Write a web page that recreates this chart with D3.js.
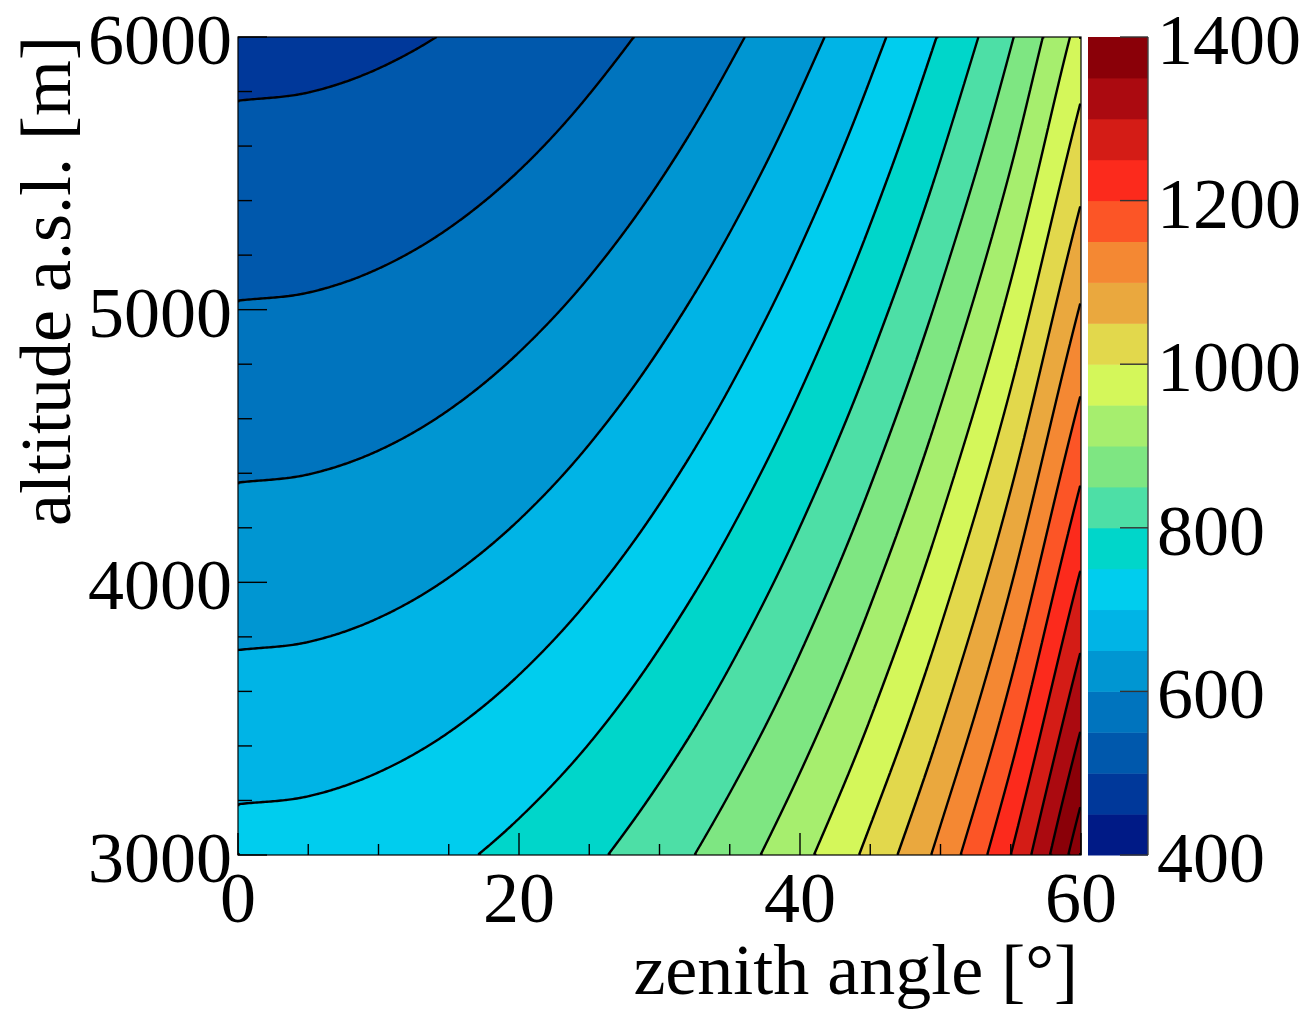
<!DOCTYPE html>
<html>
<head>
<meta charset="utf-8">
<script src="https://cdn.jsdelivr.net/npm/d3@7"></script>
<style>
  html, body { margin: 0; padding: 0; background: #fff; }
  svg { display: block; }
  text { font-family: "Liberation Serif", "DejaVu Serif", serif; fill: #000; }
</style>
</head>
<body>
<script>
// ---- data ----
const zenith = [0, 5, 10, 15, 20, 25, 30, 35, 40, 45, 50, 55, 60];      // degrees
const altitude = [3000, 3500, 4000, 4500, 5000, 5500, 6000];              // m a.s.l.
const values = [
  [717.0, 719.7, 728.1, 742.3, 763.0, 791.1, 827.9, 875.3, 936.0, 1014.0, 1115.4, 1250.1, 1434.0],
  [671.7, 674.3, 682.1, 695.4, 714.8, 741.1, 775.6, 820.0, 876.8, 949.9, 1045.0, 1171.1, 1343.4],
  [629.3, 631.7, 639.0, 651.5, 669.7, 694.3, 726.7, 768.2, 821.5, 890.0, 979.0, 1097.2, 1258.6],
  [589.6, 591.9, 598.7, 610.4, 627.4, 650.5, 680.8, 719.8, 769.7, 833.8, 917.3, 1027.9, 1179.2],
  [552.4, 554.5, 560.9, 571.9, 587.9, 609.5, 637.9, 674.4, 721.1, 781.2, 859.4, 963.1, 1104.8],
  [517.5, 519.5, 525.5, 535.7, 550.7, 571.0, 597.6, 631.8, 675.6, 731.9, 805.1, 902.2, 1035.0],
  [484.9, 486.8, 492.4, 502.0, 516.0, 535.0, 559.9, 592.0, 633.0, 685.8, 754.4, 845.4, 969.8]
];
const levels = [400, 450, 500, 550, 600, 650, 700, 750, 800, 850, 900, 950, 1000,
                1050, 1100, 1150, 1200, 1250, 1300, 1350, 1400];
const bandColors = ["#001a86", "#00389a", "#0058ac", "#0074be", "#0096d2", "#00b4e6",
                    "#00cdee", "#00d6ca", "#4ddfa6", "#7ee682", "#a6ee6e", "#d4f75a",
                    "#e2d84c", "#eaa83e", "#f48833", "#fc5526", "#fc2a1c", "#d41c16",
                    "#ab0a10", "#8a0008"];
const xTicks = [0, 20, 40, 60];
const xMinorTicks = [5, 10, 15, 25, 30, 35, 45, 50, 55];
const yTicks = [3000, 4000, 5000, 6000];
const yMinorTicks = [3200, 3400, 3600, 3800, 4200, 4400, 4600, 4800, 5200, 5400, 5600, 5800];
const zTicks = [400, 600, 800, 1000, 1200, 1400];
const xTitle = "zenith angle [°]";
const yTitle = "altitude a.s.l. [m]";

// ---- layout ----
const W = 1308, H = 1009;
const P = {left: 238, right: 1081, top: 37, bottom: 855};
const CB = {left: 1088, right: 1148};
const FS = 72;

const x = d3.scaleLinear().domain([0, 60]).range([P.left, P.right]);
const y = d3.scaleLinear().domain([3000, 6000]).range([P.bottom, P.top]);
const z = d3.scaleLinear().domain([400, 1400]).range([P.bottom, P.top]);

const svg = d3.select("body").append("svg").attr("width", W).attr("height", H);

// ---- smooth (Catmull-Rom) resampling of the value grid for drawing ----
function cr(p0, p1, p2, p3, t) {
  return 0.5 * (2 * p1 + (-p0 + p2) * t + (2 * p0 - 5 * p1 + 4 * p2 - p3) * t * t +
    (-p0 + 3 * p1 - 3 * p2 + p3) * t * t * t);
}
function interp1(arr, u) {
  const n = arr.length;
  let i = Math.floor(u);
  if (i > n - 2) i = n - 2;
  if (i < 0) i = 0;
  const t = u - i;
  const at = k => k < 0 ? 2 * arr[0] - arr[1] : (k > n - 1 ? 2 * arr[n - 1] - arr[n - 2] : arr[k]);
  return cr(at(i - 1), at(i), at(i + 1), at(i + 2), t);
}
const zStep = zenith[1] - zenith[0], aStep = altitude[1] - altitude[0];
function sample(th, h) {
  const u = (th - zenith[0]) / zStep;
  const v = (h - altitude[0]) / aStep;
  const col = values.map(r => interp1(r, u));
  return interp1(col, v);
}

const nx = 422, ny = 409;
const grid = new Float64Array(nx * ny);
for (let j = 0; j < ny; j++) {
  const h = y.invert(P.top + (j + 0.5) * (P.bottom - P.top) / ny);
  for (let i = 0; i < nx; i++) {
    const th = x.invert(P.left + (i + 0.5) * (P.right - P.left) / nx);
    grid[j * nx + i] = sample(th, h);
  }
}
const sx = (P.right - P.left) / nx, sy = (P.bottom - P.top) / ny;
const proj = d3.geoTransform({
  point(px, py) { this.stream.point(P.left + px * sx, P.top + py * sy); }
});
const path = d3.geoPath(proj);

const contours = d3.contours().size([nx, ny]).thresholds(levels)(grid);

svg.append("defs").append("clipPath").attr("id", "plotclip")
  .append("rect").attr("x", P.left).attr("y", P.top)
  .attr("width", P.right - P.left).attr("height", P.bottom - P.top);

const gPlot = svg.append("g").attr("clip-path", "url(#plotclip)");
// filled bands
gPlot.selectAll("path.band")
  .data(contours.slice(0, bandColors.length))
  .join("path")
  .attr("class", "band")
  .attr("d", path)
  .attr("fill", (d, i) => bandColors[i])
  .attr("stroke", (d, i) => bandColors[i])
  .attr("stroke-width", 0.6);

// contour lines (interior segments only)
function linePath(mp) {
  let s = "";
  const onEdge = (a, b) => (a[0] === 0 && b[0] === 0) || (a[0] === nx && b[0] === nx) ||
    (a[1] === 0 && b[1] === 0) || (a[1] === ny && b[1] === ny);
  for (const poly of mp.coordinates) {
    for (const ring of poly) {
      let pen = false;
      for (let k = 0; k < ring.length - 1; k++) {
        const a = ring[k], b = ring[k + 1];
        if (onEdge(a, b)) { pen = false; continue; }
        const ax = P.left + a[0] * sx, ay = P.top + a[1] * sy;
        const bx = P.left + b[0] * sx, by = P.top + b[1] * sy;
        if (!pen) { s += "M" + ax.toFixed(2) + "," + ay.toFixed(2); pen = true; }
        s += "L" + bx.toFixed(2) + "," + by.toFixed(2);
      }
    }
  }
  return s;
}
gPlot.selectAll("path.cline")
  .data(contours.slice(1))
  .join("path")
  .attr("class", "cline")
  .attr("d", linePath)
  .attr("fill", "none")
  .attr("stroke", "#000")
  .attr("stroke-width", 2.4)
  .attr("stroke-linejoin", "round");

// frame
svg.append("rect").attr("x", P.left).attr("y", P.top)
  .attr("width", P.right - P.left).attr("height", P.bottom - P.top)
  .attr("fill", "none").attr("stroke", "#000").attr("stroke-width", 1.2);

// axis ticks (inward)
const gAx = svg.append("g").attr("stroke", "#000").attr("stroke-width", 1.4);
gAx.selectAll("line.xM").data(xTicks).join("line")
  .attr("x1", d => x(d)).attr("x2", d => x(d))
  .attr("y1", P.bottom).attr("y2", P.bottom - 22);
gAx.selectAll("line.xm").data(xMinorTicks).join("line")
  .attr("x1", d => x(d)).attr("x2", d => x(d))
  .attr("y1", P.bottom).attr("y2", P.bottom - 11);
gAx.selectAll("line.yM").data(yTicks).join("line")
  .attr("x1", P.left).attr("x2", P.left + 29)
  .attr("y1", d => y(d)).attr("y2", d => y(d));
gAx.selectAll("line.ym").data(yMinorTicks).join("line")
  .attr("x1", P.left).attr("x2", P.left + 14)
  .attr("y1", d => y(d)).attr("y2", d => y(d));

// tick labels
svg.append("g").selectAll("text").data(xTicks).join("text")
  .attr("x", d => x(d)).attr("y", 922)
  .attr("text-anchor", "middle").attr("font-size", FS)
  .text(d => d);
svg.append("g").selectAll("text").data(yTicks).join("text")
  .attr("x", 232).attr("y", d => y(d) + 27)
  .attr("text-anchor", "end").attr("font-size", FS)
  .text(d => d);

// axis titles
svg.append("text").attr("x", 1078).attr("y", 994)
  .attr("text-anchor", "end").attr("font-size", FS).text(xTitle);
svg.append("text")
  .attr("transform", "translate(70,36) rotate(-90)")
  .attr("text-anchor", "end").attr("font-size", FS).text(yTitle);

// ---- color bar ----
const gCB = svg.append("g");
gCB.selectAll("rect").data(bandColors).join("rect")
  .attr("x", CB.left).attr("width", CB.right - CB.left)
  .attr("y", (d, i) => z(levels[i + 1]))
  .attr("height", (d, i) => z(levels[i]) - z(levels[i + 1]) + 0.5)
  .attr("fill", d => d);
gCB.append("line").attr("x1", CB.right).attr("x2", CB.right)
  .attr("y1", P.top).attr("y2", P.bottom)
  .attr("stroke", "#444").attr("stroke-width", 1.4);
gCB.selectAll("line.zt").data(zTicks).join("line")
  .attr("class", "zt")
  .attr("x1", CB.right - 28).attr("x2", CB.right)
  .attr("y1", d => z(d)).attr("y2", d => z(d))
  .attr("stroke", "#333").attr("stroke-width", 1.4);
gCB.selectAll("text").data(zTicks).join("text")
  .attr("x", 1157).attr("y", d => z(d) + 27)
  .attr("text-anchor", "start").attr("font-size", FS)
  .text(d => d);
</script>
</body>
</html>
